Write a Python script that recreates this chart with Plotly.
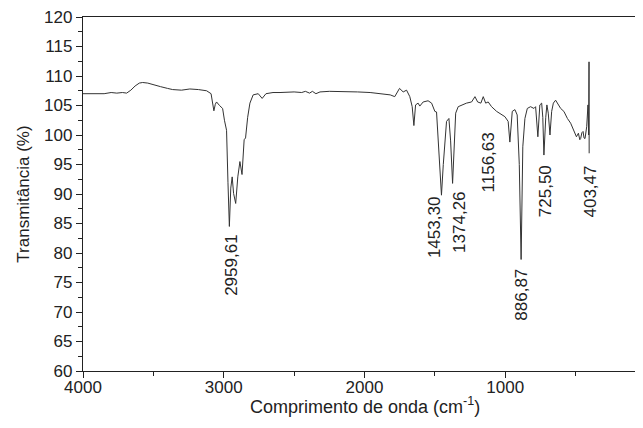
import plotly.graph_objects as go

wavenumber = [4000, 3950, 3900, 3850, 3800, 3760, 3720, 3690, 3660, 3630, 3600, 3576, 3540, 3500,
              3450, 3400, 3363, 3300, 3241, 3180, 3122, 3090, 3078, 3070, 3060, 3051, 3030, 3008,
              2995, 2980, 2970, 2960, 2950, 2940, 2930, 2915, 2900, 2885, 2870, 2855, 2845, 2830,
              2814, 2791, 2755, 2727, 2700, 2650, 2600, 2500, 2446, 2420, 2390, 2370, 2345, 2316,
              2250, 2150, 2050, 1960, 1880, 1817, 1785, 1765, 1751, 1725, 1701, 1678, 1661, 1649,
              1637, 1619, 1607, 1583, 1548, 1523, 1500, 1488, 1477, 1465, 1453, 1440, 1429, 1417,
              1400, 1388, 1374, 1362, 1352, 1334, 1310, 1275, 1239, 1215, 1196, 1173, 1156, 1139,
              1121, 1097, 1061, 1025, 1002, 979, 967, 950, 931, 915, 900, 887, 875, 860, 843, 820,
              796, 784, 768, 754, 741, 733, 725, 712, 704, 694, 682, 670, 658, 642, 622, 606, 583,
              558, 535, 511, 494, 480, 470, 464, 455, 447, 440, 433, 427, 421, 412, 407, 404.5, 403.47]
transmittance = [107.0, 107.0, 107.1, 107.0, 107.2, 107.1, 107.2, 107.1, 107.6, 108.3, 108.8, 108.9, 108.8, 108.5,
                 108.2, 107.9, 107.7, 107.6, 107.8, 107.7, 107.5, 107.0, 105.5, 104.1, 105.2, 105.6, 105.0, 104.5,
                 102.5, 100.8, 92.0, 84.5, 91.0, 92.9, 90.1, 88.4, 92.9, 95.5, 93.3, 99.2, 99.5, 103.0,
                 105.4, 106.8, 107.0, 106.2, 107.0, 107.2, 107.2, 107.3, 107.2, 107.4, 107.1, 107.4, 107.0, 107.3,
                 107.4, 107.4, 107.3, 107.2, 107.0, 106.8, 106.5, 107.2, 107.9, 107.3, 107.6, 106.5, 104.8, 101.6,
                 105.1, 105.4, 104.9, 105.6, 105.8, 105.4, 104.0, 103.9, 99.2, 93.0, 89.8, 95.0, 98.6, 102.3,
                 102.8, 99.0, 91.8, 100.0, 103.7, 104.8, 105.1, 105.4, 105.6, 106.5, 105.6, 105.4, 106.5, 105.4,
                 105.6, 104.8, 104.0, 103.4, 103.1, 102.3, 98.8, 104.0, 104.3, 103.4, 95.0, 78.9, 98.0, 102.8, 104.5, 104.8,
                 104.5, 104.8, 99.7, 105.1, 105.4, 103.0, 96.6, 103.0, 105.1, 103.7, 100.0, 104.0, 105.4, 105.9, 105.1, 104.5, 104.0,
                 102.8, 102.0, 100.8, 99.7, 100.3, 99.2, 99.4, 100.4, 100.6, 99.5, 99.4, 100.5, 101.4, 105.1, 100.0, 112.4, 96.9]

peak_labels = ["2959,61", "1453,30", "1374,26", "1156,63", "886,87", "725,50", "403,47"]
label_top = [83.4, 89.8, 90.7, 100.8, 77.7, 95.2, 95.2]
label_shift = [2, -7, 7, 5, 0, 1, 1]

x_tick_vals = [4000, 3000, 2000, 1000, 0]
x_tick_text = ["4000", "3000", "2000", "1000", "0"]
x_title = "Comprimento de onda (cm<sup>-1</sup>)"
y_title = "Transmitância (%)"

fig = go.Figure()
fig.add_trace(go.Scatter(x=wavenumber, y=transmittance, mode="lines",
                         line=dict(color="#333333", width=1), showlegend=False))

for lab, yt, xs in zip(peak_labels, label_top, label_shift):
    xv = float(lab.replace(",", "."))
    fig.add_annotation(x=xv, y=yt, text=lab, textangle=-90, showarrow=False,
                       xanchor="center", yanchor="top", xshift=xs,
                       font=dict(family="Arial, Liberation Sans", size=17, color="#222"))

ytitle_font = dict(family="Arial, Liberation Sans", size=17, color="#222")
xtitle_font = dict(family="Arial, Liberation Sans", size=18, color="#222")
tick_font = dict(family="Arial, Liberation Sans", size=17, color="#222")

fig.add_annotation(xref="paper", yref="paper", x=0.5, y=0, yshift=-34, xshift=2,
                   xanchor="center", yanchor="middle", showarrow=False,
                   text=x_title, font=xtitle_font)

fig.update_layout(
    width=635, height=420,
    margin=dict(l=75, r=0, t=9, b=57),
    paper_bgcolor="white", plot_bgcolor="white",
    font=tick_font,
    xaxis=dict(range=[4000, 21], tickvals=x_tick_vals, ticktext=x_tick_text,
               automargin=False, ticklabelstandoff=-6, ticklabeloverflow="allow",
               ticks="outside", ticklen=6, tickwidth=1.2, tickcolor="#222",
               showline=True, linecolor="#222", linewidth=1.3, mirror=True,
               showgrid=False, zeroline=False,
               minor=dict(dtick=500, tick0=0, ticks="outside", ticklen=4, tickcolor="#222", showgrid=False),
               tickfont=tick_font),
    yaxis=dict(range=[60, 120], dtick=5, tick0=60,
               automargin=False, ticklabeloverflow="allow",
               ticks="outside", ticklen=6, tickwidth=1.2, tickcolor="#222",
               showline=True, linecolor="#222", linewidth=1.3, mirror=False,
               showgrid=False, zeroline=False,
               minor=dict(dtick=2.5, tick0=60, ticks="outside", ticklen=4, tickcolor="#222", showgrid=False),
               title=dict(text=y_title, standoff=10, font=ytitle_font),
               tickfont=tick_font),
)

fig.write_html("out.html")
